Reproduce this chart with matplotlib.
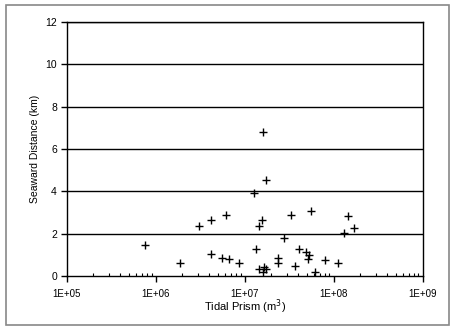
import numpy as np
import matplotlib.pyplot as plt
from matplotlib.patches import Rectangle
from matplotlib.ticker import LogLocator, FixedLocator

# Data
tidal_prism = [7.6e5, 1.9e6, 3.1e6, 4.2e6, 4.2e6, 6.1e6, 5.6e6, 6.6e6, 8.6e6,
               1.27e7, 1.36e7, 1.62e7, 1.72e7, 1.55e7, 1.45e7, 3.29e7, 5.56e7,
               1.47e8, 1.71e8, 1.31e8, 2.79e7, 4.07e7, 4.89e7, 5.24e7, 5.19e7,
               7.98e7, 1.11e8, 2.37e7, 2.37e7, 3.65e7, 6.21e7, 1.45e7, 1.66e7,
               1.72e7, 1.62e7]
seaward_km = [1.48, 0.61, 2.38, 2.65, 1.07, 2.88, 0.88, 0.80, 0.64,
              3.92, 1.29, 6.80, 4.52, 2.65, 2.38, 2.88, 3.10,
              2.86, 2.27, 2.03, 1.81, 1.28, 1.15, 1.02, 0.80,
              0.76, 0.64, 0.88, 0.61, 0.49, 0.19, 0.34, 0.45,
              0.34, 0.20]

x_ticks = [1e5, 1e6, 1e7, 1e8, 1e9]
x_tick_labels = ['1E+05', '1E+06', '1E+07', '1E+08', '1E+09']
y_ticks = [0, 2, 4, 6, 8, 10, 12]

plt.rcParams['font.family'] = ['Liberation Sans', 'DejaVu Sans']

fig = plt.figure(figsize=(4.55, 3.32), dpi=100)
ax = fig.add_axes([0.1466, 0.1678, 0.7820, 0.7668])

# Grey chart border
fig.patches.append(Rectangle((5.5 / 455, 1 - 325 / 332), 443 / 455, 320 / 332,
                             transform=fig.transFigure, fill=False,
                             edgecolor='#888888', linewidth=1.2))

ax.scatter(tidal_prism, seaward_km, marker='+', s=40, c='black', linewidths=1.0,
           zorder=3)

ax.set_xscale('log')
ax.set_xlim(1e5, 1e9)
ax.set_ylim(0, 12)
ax.set_xticks(x_ticks)
ax.set_xticklabels(x_tick_labels)
ax.xaxis.set_minor_locator(LogLocator(base=10, subs=np.arange(2, 10)))
ax.xaxis.set_minor_formatter(plt.NullFormatter())
ax.yaxis.set_major_locator(FixedLocator(y_ticks))

for y in y_ticks[1:]:
    ax.axhline(y, color='black', linewidth=1.0, zorder=1)

for sp in ax.spines.values():
    sp.set_color('black')
    sp.set_linewidth(1.0)

ax.tick_params(axis='x', which='major', direction='out', length=4, width=1,
               labelsize=7, pad=5)
ax.tick_params(axis='x', which='minor', direction='in', length=2.5, width=0.8)
ax.tick_params(axis='y', which='major', direction='out', length=4, width=1,
               labelsize=7.5, pad=3)

ax.set_xlabel('Tidal Prism (m$^3$)', fontsize=8, labelpad=-1)
ax.set_ylabel('Seaward Distance (km)', fontsize=7.5, labelpad=4)

plt.savefig('out.png', dpi=100)
